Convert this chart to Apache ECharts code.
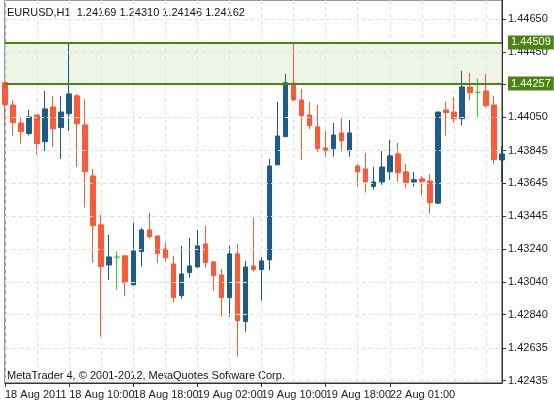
<!DOCTYPE html>
<html><head><meta charset="utf-8">
<script src="https://cdn.jsdelivr.net/npm/echarts@6/dist/echarts.min.js"></script>
<style>html,body{margin:0;padding:0;background:#fff}#c{width:554px;height:403px}</style>
</head><body><div id="c"></div>
<script>
// [open, close, low, high]
const ohlc = [
[1.44262,1.44127,1.44029,1.44267],[1.44125,1.44017,1.43937,1.44156],[1.44015,1.43962,1.43888,1.44054],
[1.43950,1.44052,1.43937,1.44095],[1.44064,1.43888,1.43821,1.44064],[1.43900,1.44101,1.43843,1.44211],
[1.44113,1.43980,1.43868,1.44181],[1.43986,1.44082,1.43794,1.44181],[1.44072,1.44193,1.43966,1.44510],
[1.44181,1.44011,1.43745,1.44193],[1.44003,1.43716,1.43496,1.44162],[1.43690,1.43385,1.43158,1.43733],
[1.43390,1.43134,1.42705,1.43451],[1.43144,1.43193,1.43052,1.43328],[1.43192,1.43192,1.42991,1.43230],
[1.43200,1.43036,1.42954,1.43200],[1.43022,1.43230,1.43017,1.43404],[1.43226,1.43359,1.43134,1.43371],
[1.43359,1.43318,1.43306,1.43465],[1.43322,1.43214,1.43158,1.43322],[1.43242,1.43189,1.43165,1.43281],
[1.43150,1.42944,1.42913,1.43200],[1.42956,1.43089,1.42938,1.43261],[1.43097,1.43138,1.43066,1.43310],
[1.43132,1.43261,1.43128,1.43359],[1.43273,1.43158,1.43128,1.43384],[1.43163,1.43079,1.42987,1.43163],
[1.43083,1.42944,1.42827,1.43120],[1.42944,1.43212,1.42827,1.43261],[1.43212,1.42803,1.42582,1.43273],
[1.42797,1.43132,1.42735,1.43169],[1.43138,1.43116,1.43103,1.43433],[1.43116,1.43169,1.42925,1.43193],
[1.43175,1.43751,1.43114,1.43794],[1.43758,1.43935,1.43758,1.44144],[1.43931,1.44262,1.43931,1.44316],
[1.44259,1.44156,1.44150,1.44508],[1.44156,1.44060,1.43788,1.44224],[1.44064,1.43999,1.43978,1.44144],
[1.43991,1.43857,1.43837,1.44125],[1.43862,1.43845,1.43808,1.43966],[1.43857,1.43941,1.43808,1.44015],
[1.43954,1.43906,1.43837,1.44046],[1.43845,1.43954,1.43808,1.44033],[1.43751,1.43715,1.43625,1.43764],
[1.43733,1.43653,1.43588,1.43831],[1.43625,1.43653,1.43606,1.43745],[1.43653,1.43745,1.43635,1.43843],
[1.43715,1.43813,1.43666,1.43911],[1.43825,1.43710,1.43653,1.43892],[1.43715,1.43649,1.43618,1.43764],
[1.43653,1.43667,1.43625,1.43715],[1.43672,1.43655,1.43569,1.43690],[1.43659,1.43526,1.43459,1.43702],
[1.43523,1.44082,1.43518,1.44082],[1.44095,1.44078,1.43937,1.44146],[1.44082,1.44041,1.44017,1.44173],
[1.44041,1.44236,1.43999,1.44334],[1.44236,1.44201,1.44156,1.44322],[1.44203,1.44203,1.44048,1.44285],
[1.44211,1.44121,1.44109,1.44316],[1.44125,1.43790,1.43764,1.44182],[1.43788,1.43825,1.43653,1.43874]
];
const categories = [];
const days = [['18 Aug',2,23],['19 Aug',0,21],['21 Aug',21,23],['22 Aug',0,15]];
days.forEach(([d,a,b])=>{for(let h=a;h<=b;h++)categories.push(d+' '+String(h).padStart(2,'0')+':00');});
const xTickLabels = {0:'18 Aug 2011',8:'18 Aug 10:00',16:'18 Aug 18:00',24:'19 Aug 02:00',32:'19 Aug 10:00',40:'19 Aug 18:00',48:'22 Aug 01:00',56:'22 Aug 09:00'};
const yTicks = [1.42435,1.42635,1.42840,1.43040,1.43240,1.43445,1.43645,1.43845,1.44050,1.44250,1.44450,1.44650];
const levels = [1.44509,1.44257];
const title = 'EURUSD,H1  1.24169 1.24310 1.24146 1.24162';
const footer = 'MetaTrader 4, \u00a9 2001-2012, MetaQuotes Software Corp.';

const font = 'Liberation Sans';
const UP = '#1a5c8c', DOWN = '#ff5a33', DOJI = '#22dd22', LVL = '#4a8512';
const data = ohlc.map(v => v[0]===v[1] ? {value:v, itemStyle:{color:DOJI,borderColor:DOJI,color0:DOJI,borderColor0:DOJI}} : v);
const gridLines = yTicks.map(v=>({yAxis:v,lineStyle:{color:'#e2e2e2',type:[4,3],width:1},label:{show:false}}));
const levelLines = levels.map(v=>({yAxis:v,lineStyle:{color:LVL,width:2,type:'solid'},
  label:{show:true,position:'end',formatter:v.toFixed(5),color:'#fff',backgroundColor:LVL,padding:[2,3,1,3],fontFamily:font,fontSize:11,distance:6}}));
const chart = echarts.init(document.getElementById('c'));
chart.setOption({
  animation:false,
  grid:{left:5,right:52,top:0,bottom:20,show:true,borderColor:'#333',borderWidth:1},
  xAxis:{type:'category',data:categories,boundaryGap:false,
    axisLine:{lineStyle:{color:'#333'}},
    axisTick:{interval:(i)=>i%8===0,length:4,lineStyle:{color:'#333'}},
    axisLabel:{interval:(i)=>i%8===0,formatter:(v,i)=>xTickLabels[i]||'',align:'left',margin:6,color:'#222',fontFamily:font,fontSize:11},
    splitLine:{show:true,interval:(i)=>i%4===0,lineStyle:{color:'#e2e2e2',type:[4,3]}}},
  yAxis:{type:'value',position:'right',min:1.4242,max:1.44769,
    axisLine:{show:true,lineStyle:{color:'#333'}},
    axisTick:{show:true,customValues:yTicks,length:4,lineStyle:{color:'#333'}},
    axisLabel:{customValues:yTicks,formatter:v=>Math.abs(v-1.4425)<1e-6?'':v.toFixed(5),color:'#222',fontFamily:font,fontSize:11,margin:6},
    splitLine:{show:false}},
  graphic:[
    {type:'text',left:7,top:7,style:{text:title,fill:'#111',font:'11px '+font}},
    {type:'text',left:7,top:370,style:{text:footer,fill:'#111',font:'11px '+font}}
  ],
  series:[
    {type:'candlestick',data:data,barWidth:5,
     itemStyle:{color:UP,borderColor:UP,color0:DOWN,borderColor0:DOWN},
     markArea:{silent:true,itemStyle:{color:'rgba(222,235,210,0.55)'},data:[[{yAxis:levels[1]},{yAxis:levels[0]}]]},
     markLine:{silent:true,symbol:'none',precision:5,data:gridLines.concat(levelLines)}}
  ]
});
</script></body></html>
